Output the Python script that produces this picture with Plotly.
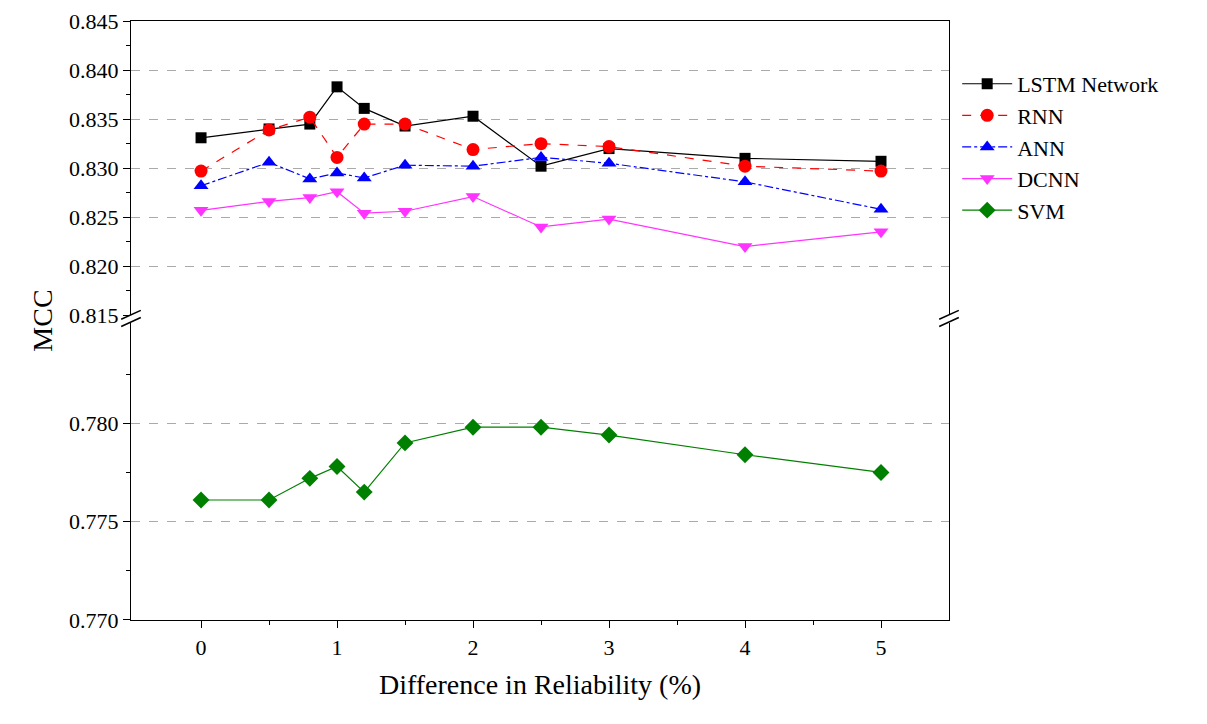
import plotly.graph_objects as go

x = [0, 0.5, 0.8, 1, 1.2, 1.5, 2, 2.5, 3, 4, 5]
lstm = [0.8331, 0.8340, 0.8345, 0.8383, 0.8361, 0.8343, 0.8353, 0.8302, 0.8320, 0.8310, 0.8307]
rnn = [0.8297, 0.8339, 0.8352, 0.8311, 0.8345, 0.8345, 0.8319, 0.8325, 0.8322, 0.8302, 0.8297]
ann = [0.8282, 0.8306, 0.8289, 0.8295, 0.8290, 0.8303, 0.8302, 0.8311, 0.8305, 0.8286, 0.8258]
dcnn = [0.8257, 0.8266, 0.8270, 0.8276, 0.8254, 0.8256, 0.8271, 0.8240, 0.8248, 0.8220, 0.8235]
svm = [0.7761, 0.7761, 0.7772, 0.7778, 0.7765, 0.7790, 0.7798, 0.7798, 0.7794, 0.7784, 0.7775]

font = "Liberation Serif"
fig = go.Figure()

def add(name, y, color, sym, dash, yax, size=12):
    fig.add_trace(go.Scatter(x=x, y=y, name=name, yaxis=yax, xaxis="x" if yax == "y" else "x2",
                             mode="lines+markers",
                             line=dict(color=color, width=1.2, dash=dash),
                             marker=dict(symbol=sym, size=size, color=color)))

add("LSTM Network", lstm, "black", "square", "solid", "y2", 11)
add("RNN", rnn, "red", "circle", "dash", "y2", 13)
add("ANN", ann, "blue", "triangle-up", "dashdot", "y2", 13)
add("DCNN", dcnn, "#ff33ff", "triangle-down", "solid", "y2", 13)
add("SVM", svm, "green", "diamond", "solid", "y", 13)

ax_common = dict(ticks="outside", ticklen=7, tickwidth=1.3, tickcolor="black",
                 showline=True, linecolor="black", linewidth=1.3, mirror=True,
                 tickfont=dict(size=22, family=font, color="black"))
grid = dict(showgrid=True, gridcolor="#aaaaaa", griddash="dash", gridwidth=1)
minor = dict(ticks="outside", ticklen=4, tickcolor="black", showgrid=False)

fig.update_layout(
    width=1207, height=724, paper_bgcolor="white", plot_bgcolor="white",
    margin=dict(l=123, r=266, t=13, b=112),
    font=dict(family=font, color="black"),
    xaxis=dict(range=[-0.515, 5.5], tickvals=[0, 1, 2, 3, 4, 5], anchor="y",
               minor=dict(tickvals=[0.5, 1.5, 2.5, 3.5, 4.5], **minor),
               showgrid=False, zeroline=False,
               title=dict(text="Difference in Reliability (%)", font=dict(size=28, family=font)),
               **{k: v for k, v in ax_common.items() if k != "mirror"}),
    xaxis2=dict(range=[-0.515, 5.5], anchor="y2", matches="x", showticklabels=False,
                showline=True, linecolor="black", linewidth=1.3, side="top",
                ticks="", showgrid=False, zeroline=False),
    yaxis=dict(domain=[0, 0.496], range=[0.770, 0.7851], tickvals=[0.770, 0.775, 0.780],
               tickformat=".3f", minor=dict(tickvals=[0.7725, 0.7775, 0.7825], **minor),
               zeroline=False, **grid, **ax_common),
    yaxis2=dict(domain=[0.509, 1], range=[0.815, 0.84502],
                tickvals=[0.815, 0.82, 0.825, 0.83, 0.835, 0.84, 0.845],
                tickformat=".3f", ticklabeloverflow="allow", automargin=False,
                minor=dict(tickvals=[0.8175, 0.8225, 0.8275, 0.8325, 0.8375, 0.8425], **minor),
                zeroline=False, **grid, **ax_common),
    legend=dict(x=1.01, y=0.93, xanchor="left", yanchor="top",
                font=dict(size=22, family=font), tracegroupgap=0, itemwidth=50),
    showlegend=True,
)
fig.add_annotation(text="MCC", xref="paper", yref="paper", x=-0.13, y=0.5,
                   textangle=-90, showarrow=False, font=dict(size=28, family=font))
# break marks
for xp in [0, 1]:
    for dy in [0.0, 0.012]:
        fig.add_shape(type="line", xref="paper", yref="paper",
                      x0=xp - 0.012, x1=xp + 0.012, y0=0.49 + dy, y1=0.505 + dy,
                      line=dict(color="black", width=1.5))
fig.write_html("out.html")
